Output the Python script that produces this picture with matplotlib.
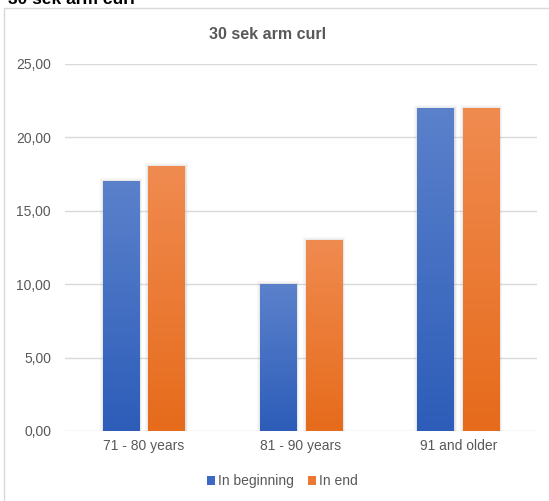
import numpy as np
import matplotlib
matplotlib.use("Agg")
import matplotlib.pyplot as plt
from matplotlib.colors import LinearSegmentedColormap
from matplotlib.patches import Rectangle, Patch

categories = ["71 - 80 years", "81 - 90 years", "91 and older"]
series_names = ["In beginning", "In end"]
in_beginning = [17, 10, 22]
in_end = [18, 13, 22]
yticks = [0, 5, 10, 15, 20, 25]
ytick_labels = ["0,00", "5,00", "10,00", "15,00", "20,00", "25,00"]

plt.rcParams['font.family'] = ['Liberation Sans', 'DejaVu Sans']
W, H = 549, 501
fig = plt.figure(figsize=(W / 100, H / 100), dpi=100)
fig.patch.set_facecolor("white")

# chart area border
fig.patches.append(Rectangle((4 / W, -0.1), 1.0, 1 - 8 / H + 0.1, transform=fig.transFigure,
                             fill=False, edgecolor="#D9D9D9", linewidth=1.0))
# clipped page heading at very top (cut off in the reference too)
fig.text(8 / W, 1 - 4 / H, "30 sek arm curl", fontsize=12.5, fontweight="bold",
         color="black", ha="left", va="baseline")

ax = fig.add_axes([65 / W, (H - 431) / H, (537 - 65) / W, (431 - 63.6) / H])
ax.set_xlim(-0.5, 2.5)
ax.set_ylim(0, 25)
for s in ax.spines.values():
    s.set_visible(False)
ax.set_yticks(yticks)
ax.set_yticklabels(ytick_labels, fontsize=10, color="#595959")
ax.tick_params(axis="both", length=0)
ax.tick_params(axis="y", pad=10)
ax.tick_params(axis="x", pad=6)
ax.set_xticks(range(len(categories)))
ax.set_xticklabels(categories, fontsize=10, color="#595959")
ax.yaxis.grid(True, color="#D9D9D9", linewidth=1.0)
ax.set_axisbelow(True)

x = np.arange(len(categories))
bw = 0.23
off = 0.145
cmaps = [
    LinearSegmentedColormap.from_list("b", ["#2D5DB9", "#5B81CB"]),
    LinearSegmentedColormap.from_list("o", ["#E66B1B", "#F08B50"]),
]
grad = np.linspace(0, 1, 256).reshape(-1, 1)
for si, vals in enumerate([in_beginning, in_end]):
    xs = x + (-off if si == 0 else off)
    bars = ax.bar(xs, vals, width=bw, color="none", edgecolor="none", zorder=3)
    for b in bars:
        bx, by = b.get_x(), b.get_y()
        bwid, bh = b.get_width(), b.get_height()
        # soft shadow
        for lw, a in [(4.0, 0.12), (2.0, 0.18)]:
            sh = Rectangle((bx, by), bwid, bh, facecolor="#A6A6A6", edgecolor="#A6A6A6",
                           linewidth=lw, alpha=a, zorder=2)
            ax.add_patch(sh)
        im = ax.imshow(grad, cmap=cmaps[si], aspect="auto", origin="lower",
                       extent=[bx, bx + bwid, by, by + bh], zorder=3)
        im.set_clip_path(b)
ax.set_xlim(-0.5, 2.5)
ax.set_ylim(0, 25)

ax.set_title("30 sek arm curl", fontsize=11.5, fontweight="bold", color="#595959", pad=18)
ax.title.set_position((0.429, 1.0))

handles = [Patch(facecolor="#3C67C2"), Patch(facecolor="#EC7833")]
fig.legend(handles, series_names, loc="center", bbox_to_anchor=(282 / W, 1 - 481 / H),
           ncol=2, frameon=False, fontsize=10, handlelength=0.6, handleheight=0.6,
           handletextpad=0.2, columnspacing=1.0, labelcolor="#595959")

fig.savefig("out.png", dpi=100)
